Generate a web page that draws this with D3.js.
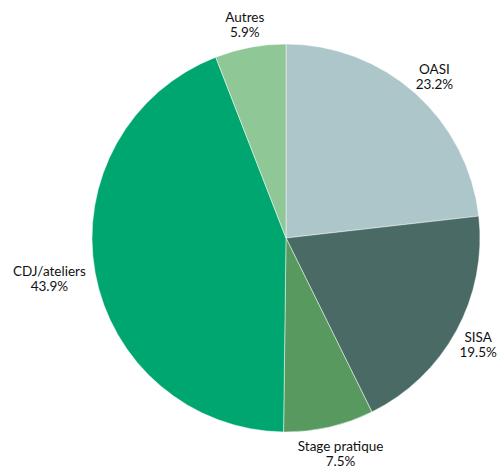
<!DOCTYPE html>
<html>
<head>
<meta charset="utf-8">
<script src="https://cdn.jsdelivr.net/npm/d3@7"></script>
<style>
  body { margin: 0; background: #fff; }
  text { font-family: Lato, "Open Sans", sans-serif; font-size: 13.5px; fill: #111; }
</style>
</head>
<body>
<svg id="chart" width="499" height="467"></svg>
<script>
var categories = ["OASI", "SISA", "Stage pratique", "CDJ/ateliers", "Autres"],
    shares = [23.2, 19.5, 7.5, 43.9, 5.9],
    colors = ["#adc6ca", "#4a6b65", "#57995f", "#00a670", "#8fc797"];

var width = 499, cx = 286, cy = 238, radius = 194, labelGap = 204;

let svg = d3.select("#chart");

let pie = d3.pie().sort(null).value(function(d) { return d; });
let arc = d3.arc().innerRadius(0).outerRadius(radius);
let color = d3.scaleOrdinal().domain(categories).range(colors);

let arcs = pie(shares);

let g = svg.append("g")
    .attr("transform", "translate(" + cx + "," + cy + ")");

g.selectAll("path")
    .data(arcs)
    .enter().append("path")
    .attr("d", arc)
    .attr("fill", function(d, i) { return color(categories[i]); })
    .attr("stroke", "#ffffff")
    .attr("stroke-width", 0.8)
    .attr("stroke-opacity", 0.6);

// labels sit just outside the rim, pushed out by half their box
let labels = g.selectAll("g.lbl")
    .data(arcs)
    .enter().append("g")
    .attr("class", "lbl");

labels.append("text")
    .attr("text-anchor", "middle")
    .attr("y", -2)
    .text(function(d, i) { return categories[i]; });

labels.append("text")
    .attr("text-anchor", "middle")
    .attr("y", 13)
    .text(function(d) { return d3.format(".1f")(d.data) + "%"; });

labels.attr("transform", function(d) {
    let a = (d.startAngle + d.endAngle) / 2;
    let bb = this.getBBox();
    let hw = bb.width / 2, hh = 15;
    let sx = Math.sin(a), sy = -Math.cos(a);
    let x = sx * labelGap + sx * hw;
    let y = sy * labelGap + sy * hh;
    // keep the box inside the picture
    x = Math.min(x, width - cx - hw - 2);
    return "translate(" + x + "," + (y + 1) + ")";
});
</script>
</body>
</html>
